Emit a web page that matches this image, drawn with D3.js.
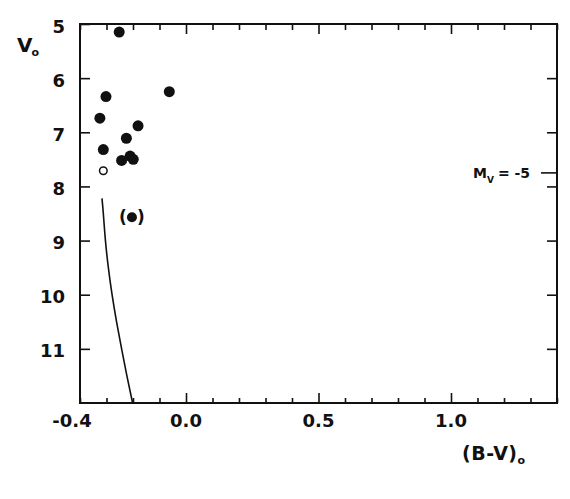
<!DOCTYPE html>
<html>
<head>
<meta charset="utf-8">
<script src="https://cdn.jsdelivr.net/npm/d3@7"></script>
<style>
  body { margin: 0; background: #fff; }
  text { font-family: "DejaVu Sans", sans-serif; fill: #111; }
</style>
</head>
<body>
<div id="chart"></div>
<script>
// filled stars: (B-V)o and Vo
const starBV = [-0.252, -0.302, -0.063, -0.325, -0.181, -0.225, -0.312, -0.243, -0.211, -0.199];
const starV  = [5.15, 6.34, 6.25, 6.74, 6.88, 7.11, 7.32, 7.52, 7.44, 7.50];
// open circle
const openBV = [-0.312];
const openV  = [7.71];
// bracketed point
const parenBV = [-0.204];
const parenV  = [8.57];
// zero-age main sequence line
const zamsBV = [-0.317, -0.312, -0.304, -0.293, -0.279, -0.262, -0.243, -0.223, -0.2015];
const zamsV  = [8.22, 8.5, 9, 9.5, 10, 10.5, 11, 11.5, 12];
// axis ticks
const xLabels = [-0.4, 0.0, 0.5, 1.0];
const yLabels = [5, 6, 7, 8, 9, 10, 11];
const mvMark = 7.75;

const width = 570, height = 499;
const margin = {top: 24, right: 13, bottom: 96, left: 80};

const svg = d3.select('#chart').append('svg')
    .attr('width', width)
    .attr('height', height);

svg.append('rect').attr('width', width).attr('height', height).attr('fill', '#fff');

const x = d3.scaleLinear()
    .domain([-0.4, 1.4])
    .range([margin.left, width - margin.right]);

const y = d3.scaleLinear()
    .domain([5, 12])
    .range([margin.top, height - margin.bottom]);

const minor = x.ticks(18);
const isMajor = d => Math.abs(d * 2 - Math.round(d * 2)) < 1e-6;

// bottom axis, ticks pointing inward
svg.append('g')
    .attr('transform', `translate(0,${y(12)})`)
    .call(d3.axisBottom(x).tickValues(minor).tickSize(0).tickFormat(''))
    .call(g => g.select('.domain').remove())
    .call(g => g.selectAll('.tick line')
        .attr('y2', d => isMajor(d) ? -10 : -5)
        .attr('stroke', '#111').attr('stroke-width', 1.6));

// top axis
svg.append('g')
    .attr('transform', `translate(0,${y(5)})`)
    .call(d3.axisTop(x).tickValues(minor).tickSize(0).tickFormat(''))
    .call(g => g.select('.domain').remove())
    .call(g => g.selectAll('.tick line')
        .attr('y2', d => isMajor(d) ? 10 : 6)
        .attr('stroke', '#111').attr('stroke-width', 1.6));

// bottom labels
svg.append('g').selectAll('text')
  .data(xLabels)
  .join('text')
    .attr('x', d => x(d))
    .attr('dx', d => d < 0 ? -8 : 0)
    .attr('y', y(12) + 24)
    .attr('text-anchor', 'middle')
    .attr('font-size', 18)
    .attr('font-weight', 'bold')
    .text(d => d3.format('.1f')(d).replace('\u2212', '-'));

// left axis
svg.append('g')
    .attr('transform', `translate(${x(-0.4)},0)`)
    .call(d3.axisLeft(y).tickValues(yLabels).tickSize(-10).tickPadding(15).tickFormat(d3.format('d')))
    .call(g => g.select('.domain').remove())
    .call(g => g.selectAll('.tick line').attr('stroke', '#111').attr('stroke-width', 1.6))
    .call(g => g.selectAll('.tick text')
        .attr('fill', '#111')
        .attr('dy', '0.45em')
        .attr('font-family', '"DejaVu Sans", sans-serif')
        .attr('font-size', 18)
        .attr('font-weight', 'bold'));

// right axis
svg.append('g')
    .attr('transform', `translate(${x(1.4)},0)`)
    .call(d3.axisRight(y).tickValues(yLabels.slice(1)).tickSize(-10).tickFormat(''))
    .call(g => g.select('.domain').remove())
    .call(g => g.selectAll('.tick line').attr('stroke', '#111').attr('stroke-width', 1.6));

// frame
svg.append('rect')
    .attr('x', x(-0.4)).attr('y', y(5))
    .attr('width', x(1.4) - x(-0.4))
    .attr('height', y(12) - y(5))
    .attr('fill', 'none')
    .attr('stroke', '#111')
    .attr('stroke-width', 2);

// ZAMS curve
const zams = zamsBV.map((d, i) => [d, zamsV[i]]);
svg.append('path')
    .datum(zams)
    .attr('fill', 'none')
    .attr('stroke', '#111')
    .attr('stroke-width', 1.6)
    .attr('d', d3.line().x(d => x(d[0])).y(d => y(d[1])).curve(d3.curveNatural));

// filled stars
svg.append('g').selectAll('circle')
  .data(starBV.map((d, i) => [d, starV[i]]))
  .join('circle')
    .attr('cx', d => x(d[0]))
    .attr('cy', d => y(d[1]))
    .attr('r', 5.5)
    .attr('fill', '#111');

// open circle
svg.append('g').selectAll('circle')
  .data(openBV.map((d, i) => [d, openV[i]]))
  .join('circle')
    .attr('cx', d => x(d[0]))
    .attr('cy', d => y(d[1]))
    .attr('r', 3.8)
    .attr('fill', '#fff')
    .attr('stroke', '#111')
    .attr('stroke-width', 1.5);

// bracketed star
const paren = svg.append('g').selectAll('g')
  .data(parenBV.map((d, i) => [d, parenV[i]]))
  .join('g')
    .attr('transform', d => `translate(${x(d[0])},${y(d[1])})`);
paren.append('circle').attr('r', 5).attr('fill', '#111');
paren.append('text').attr('x', -9).attr('y', 6).attr('text-anchor', 'middle')
    .attr('font-size', 17).attr('font-weight', 'bold').text('(');
paren.append('text').attr('x', 9).attr('y', 6).attr('text-anchor', 'middle')
    .attr('font-size', 17).attr('font-weight', 'bold').text(')');

// Mv = -5 marker
svg.append('line')
    .attr('x1', x(1.4) - 16).attr('x2', x(1.4))
    .attr('y1', y(mvMark)).attr('y2', y(mvMark))
    .attr('stroke', '#111').attr('stroke-width', 1.6);
const mv = svg.append('text')
    .attr('x', 473)
    .attr('y', y(mvMark) + 5)
    .attr('font-size', 14)
    .attr('font-weight', 'bold');
mv.append('tspan').text('M');
mv.append('tspan').attr('font-size', 9).attr('dy', 5).text('V');
mv.append('tspan').attr('dy', -5).attr('dx', 4).text('= -5');

// axis titles
const vt = svg.append('text')
    .attr('x', 17).attr('y', 52)
    .attr('font-size', 20)
    .attr('font-weight', 'bold');
vt.append('tspan').text('V');
vt.append('tspan').attr('font-size', 11).attr('dy', 4).attr('dx', -1).text('o');

const bt = svg.append('text')
    .attr('x', 462).attr('y', 460)
    .attr('font-size', 19)
    .attr('font-weight', 'bold')
    .attr('letter-spacing', 0.5);
bt.append('tspan').text('(B-V)');
bt.append('tspan').attr('font-size', 11).attr('dy', 4).text('o');
</script>
</body>
</html>
